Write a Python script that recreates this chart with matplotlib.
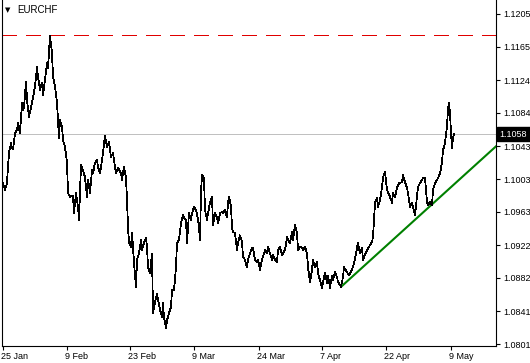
import matplotlib
matplotlib.use("Agg")
import matplotlib.pyplot as plt
import matplotlib.transforms as mtransforms

plt.rcParams["font.family"] = ["Liberation Sans", "DejaVu Sans"]

symbol = "EURCHF"

bars = [0, 1, 3, 5, 6, 7, 9, 10, 11, 13, 15, 16, 18, 20, 21, 22, 24, 25, 27, 29, 31, 33, 35, 36,
        38, 40, 41, 43, 45, 46, 48, 50, 51, 53, 55, 56, 57, 58, 60, 61, 63, 65, 66, 68, 71, 72,
        74, 76, 77, 79, 81, 83, 85, 86, 88, 90, 91, 93, 95, 96, 98, 100, 101, 103, 105, 107,
        109, 111, 112, 114, 116, 119, 120, 122, 124, 125, 126, 127, 129, 130, 131, 132, 134,
        135, 137, 139, 140, 142, 144, 145, 146, 148, 150, 151, 153, 155, 156, 158, 160, 161,
        162, 164, 165, 167, 169, 170, 172, 174, 175, 177, 179, 181, 182, 184, 185, 187, 189,
        190, 192, 194, 195, 197, 198, 199, 200, 202, 203, 205, 206, 208, 210, 211, 213, 215,
        216, 218, 220, 221, 223, 225, 226, 227, 229, 230, 231, 233, 235, 236, 238, 240, 241,
        243, 245, 246, 248, 250, 251, 253, 255, 256, 258, 260, 261, 263, 265, 266, 268, 270,
        271, 273, 275, 276, 278, 280, 281, 283, 285, 286, 288, 290, 291, 293, 295, 296, 298,
        300, 301, 303, 305, 306, 308, 310, 311, 313, 315, 316, 318, 320, 321, 323, 325, 326,
        328, 330, 331, 333, 335, 336, 339, 341, 342, 345, 347, 350, 352, 354, 356, 358, 360,
        361, 363, 365, 367, 370, 371, 373, 375, 376, 378, 380, 381, 383, 385, 386, 388, 390,
        391, 393, 395, 397, 400, 401, 403, 405, 406, 408, 410, 411, 413, 415, 416, 418, 420,
        421, 423, 425, 426, 428, 430, 431, 433, 435, 436, 438, 440, 441, 442, 443, 445, 446,
        447, 448, 449, 450, 451, 452]

closes = [1.0986, 1.0998, 1.0990, 1.0998, 1.1018, 1.1035, 1.1047, 1.1041, 1.1039, 1.1059,
          1.1063, 1.1072, 1.1059, 1.1096, 1.1087, 1.1091, 1.1122, 1.1100, 1.1079, 1.1091,
          1.1103, 1.1116, 1.1140, 1.1128, 1.1112, 1.1121, 1.1106, 1.1124, 1.1145, 1.1139,
          1.1178, 1.1157, 1.1128, 1.1116, 1.1096, 1.1075, 1.1053, 1.1075, 1.1067, 1.1051,
          1.1042, 1.1023, 1.0986, 1.0981, 1.0983, 1.0961, 1.0986, 1.0969, 1.0953, 1.1020,
          1.1014, 1.1005, 1.0981, 1.1002, 1.0986, 1.1014, 1.1010, 1.1023, 1.1026, 1.1018,
          1.1010, 1.1026, 1.1035, 1.1056, 1.1042, 1.1048, 1.1030, 1.1035, 1.1026, 1.1010,
          1.1017, 1.1010, 1.1002, 1.1018, 1.1005, 1.0977, 1.0944, 1.0925, 1.0920, 1.0937,
          1.0920, 1.0900, 1.0871, 1.0904, 1.0912, 1.0928, 1.0916, 1.0925, 1.0931, 1.0920,
          1.0895, 1.0888, 1.0912, 1.0839, 1.0852, 1.0863, 1.0855, 1.0843, 1.0834, 1.0851,
          1.0833, 1.0821, 1.0830, 1.0839, 1.0846, 1.0867, 1.0867, 1.0895, 1.0925, 1.0928,
          1.0949, 1.0959, 1.0956, 1.0953, 1.0925, 1.0961, 1.0953, 1.0961, 1.0969, 1.0965,
          1.0961, 1.0944, 1.0928, 1.0986, 1.1008, 1.1004, 1.0965, 1.0953, 1.0961, 1.0974,
          1.0981, 1.0947, 1.0961, 1.0956, 1.0949, 1.0961, 1.0963, 1.0961, 1.0965, 1.0956,
          1.0974, 1.0981, 1.0969, 1.0944, 1.0938, 1.0937, 1.0916, 1.0925, 1.0934, 1.0926,
          1.0908, 1.0904, 1.0895, 1.0904, 1.0912, 1.0919, 1.0919, 1.0904, 1.0901, 1.0904,
          1.0892, 1.0904, 1.0908, 1.0916, 1.0912, 1.0920, 1.0912, 1.0904, 1.0910, 1.0904,
          1.0901, 1.0916, 1.0920, 1.0910, 1.0912, 1.0916, 1.0932, 1.0928, 1.0925, 1.0938,
          1.0928, 1.0947, 1.0937, 1.0916, 1.0920, 1.0919, 1.0916, 1.0920, 1.0912, 1.0895,
          1.0877, 1.0892, 1.0904, 1.0895, 1.0901, 1.0888, 1.0879, 1.0870, 1.0877, 1.0888,
          1.0876, 1.0885, 1.0870, 1.0885, 1.0879, 1.0889, 1.0883, 1.0877, 1.0871, 1.0883,
          1.0895, 1.0889, 1.0885, 1.0892, 1.0900, 1.0912, 1.0925, 1.0912, 1.0919, 1.0904,
          1.0910, 1.0916, 1.0920, 1.0926, 1.0932, 1.0974, 1.0980, 1.0969, 1.0977, 1.0993,
          1.1005, 1.1012, 1.0990, 1.0987, 1.0981, 1.0974, 1.0986, 1.0981, 1.0992, 1.0998,
          1.0999, 1.1008, 1.0999, 1.0992, 1.0986, 1.0969, 1.0974, 1.0969, 1.0959, 1.0981,
          1.0993, 1.0998, 1.1002, 1.1004, 1.1005, 1.0974, 1.0971, 1.0975, 1.0971, 1.0990,
          1.0998, 1.1002, 1.1004, 1.1010, 1.1023, 1.1039, 1.1042, 1.1047, 1.1067, 1.1090,
          1.1096, 1.1084, 1.1059, 1.1041, 1.1053, 1.1058]

date_labels = ["25 Jan", "9 Feb", "23 Feb", "9 Mar", "24 Mar", "7 Apr", "22 Apr", "9 May"]
date_bars = [1, 65, 128, 192, 257, 320, 384, 449]

price_ticks = [1.0801, 1.0841, 1.0882, 1.0922, 1.0963, 1.1003, 1.1043, 1.1084, 1.1124,
               1.1165, 1.1205]

resistance = 1.1179
last_price = 1.1058
trend_bars = [339, 494]
trend_prices = [1.0871, 1.1043]

W, H = 530, 363
fig = plt.figure(figsize=(W / 100, H / 100), dpi=100)
fig.patch.set_facecolor("white")
ax = fig.add_axes([2 / W, (H - 346) / H, (496 - 2) / W, 346 / H])
ax.set_facecolor("white")

ax.set_xlim(0, 494)
ax.set_ylim(1.07986, 1.12221)

# current price line
ax.axhline(last_price, color="#c0c0c0", lw=0.6, antialiased=False, zorder=1)
# resistance dashed line
ax.axhline(resistance, color="#e00000", lw=0.75, dashes=(14, 9), antialiased=False, zorder=2)
# trendline
slope = (trend_prices[1] - trend_prices[0]) / (trend_bars[1] - trend_bars[0])
tx = [trend_bars[0], trend_bars[1] + 20]
ty = [trend_prices[0], trend_prices[1] + slope * 20]
ax.plot(tx, ty, color="#008000", lw=1.5, solid_capstyle="butt", zorder=3)
# price line
ax.plot(bars, closes, color="black", lw=0.55, antialiased=False, zorder=4)

ax.spines["top"].set_visible(False)
for s in ["left", "bottom", "right"]:
    ax.spines[s].set_color("black")
    ax.spines[s].set_linewidth(0.8)

ax.yaxis.tick_right()
ax.set_yticks(price_ticks)
ax.set_yticklabels([f"{v:.4f}" for v in price_ticks])
ax.set_xticks(date_bars)
ax.set_xticklabels(date_labels, ha="left")
ax.tick_params(axis="both", direction="out", length=3, width=0.8, colors="black",
               labelsize=6.5, pad=1.5)
ax.tick_params(axis="y", pad=2)
offset = mtransforms.ScaledTranslation(-1.5 / 72, 0, fig.dpi_scale_trans)
for lbl in ax.get_xticklabels():
    lbl.set_horizontalalignment("left")
    lbl.set_transform(lbl.get_transform() + offset)

# last price box
trans = mtransforms.blended_transform_factory(ax.transAxes, ax.transData)
ax.text(1.0 + 3.5 / 494, last_price, f"{last_price:.4f}", transform=trans, color="white",
        fontsize=6.5, va="center", ha="left", zorder=10, clip_on=False,
        bbox=dict(boxstyle="square,pad=0.3", facecolor="black", edgecolor="black"))

# symbol header
fig.text(5 / W, 1 - 10 / H, "▼", fontsize=5, va="center", ha="left", color="black",
         family=["DejaVu Sans"])
fig.text(17 / W, 1 - 10 / H, symbol, fontsize=7, va="center", ha="left", color="black")

fig.savefig("out.png", dpi=100, facecolor="white")
